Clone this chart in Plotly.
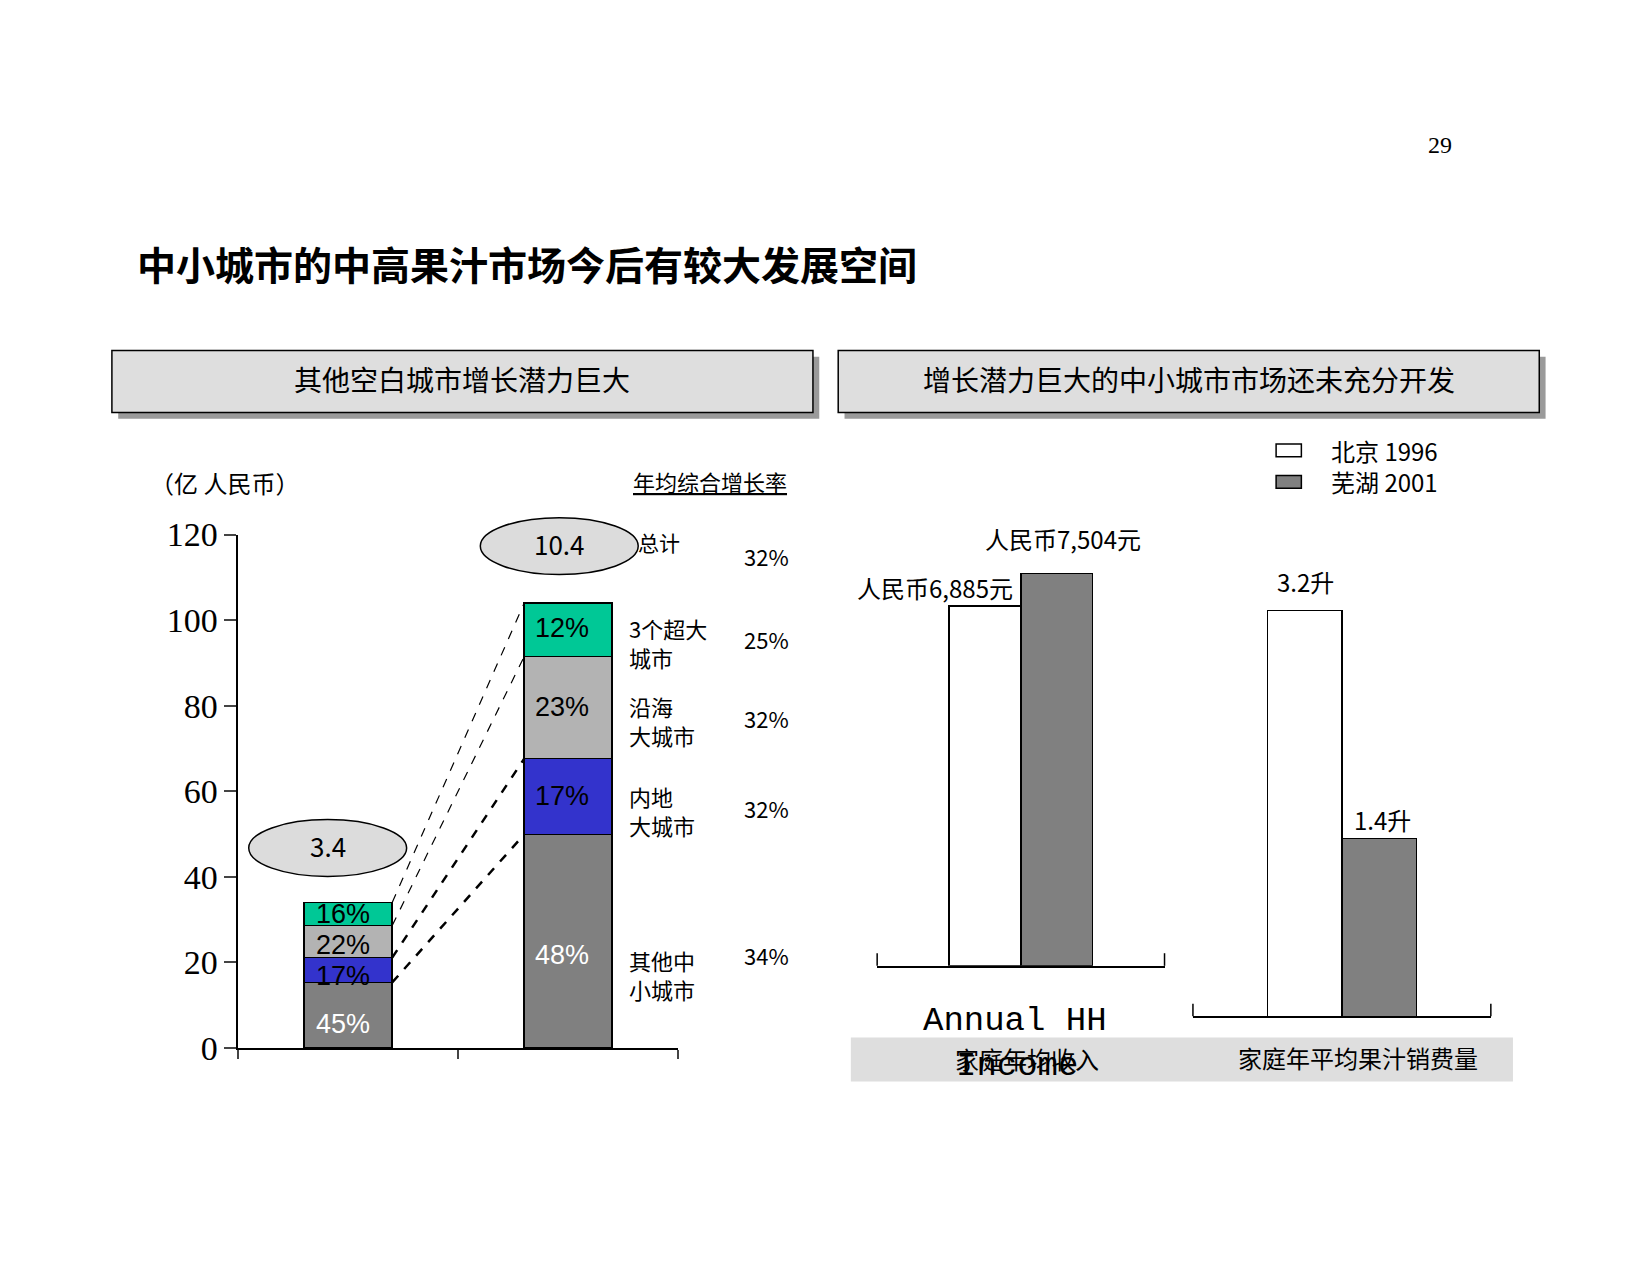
import plotly.graph_objects as go

W, H = 1650, 1275
# empirical correction of rendered placement
def px(x): return ((x - 7.3) / 0.950) / W
def py(y): return 1 - ((y - 24.6) / 0.923) / H
FS = 1.07

# ---- data ----
years = [0, 1]  # two stacks
seg_names = ["其他中小城市", "内地大城市", "沿海大城市", "3个超大城市"]
seg_colors = ["#808080", "#3333cc", "#b3b3b3", "#00c896"]
left_vals = [15.3, 5.8, 7.5, 5.4]
right_vals = [49.9, 17.7, 23.9, 12.5]
left_pct = ["45%", "17%", "22%", "16%"]
right_pct = ["48%", "17%", "23%", "12%"]
growth = ["32%", "25%", "32%", "32%", "34%"]
totals = ["3.4", "10.4"]
yticks = [0, 20, 40, 60, 80, 100, 120]

income_cities = ["北京 1996", "芜湖 2001"]
income_vals = [6885, 7504]
income_labels = ["人民币6,885元", "人民币7,504元"]
juice_vals = [3.2, 1.4]
juice_labels = ["3.2升", "1.4升"]
bar_fill = ["white", "#808080"]

fig = go.Figure()
for i in range(4):
    fig.add_trace(go.Bar(x=years, y=[left_vals[i], right_vals[i]], width=0.4,
                         marker=dict(color=seg_colors[i], line=dict(color="black", width=1.5)),
                         xaxis="x", yaxis="y", showlegend=False))

cl, cr = 0, 0
for i in range(4):
    cl += left_vals[i]; cr += right_vals[i]
    fig.add_trace(go.Scatter(x=[0.2, 0.8], y=[cl, cr], mode="lines",
                             line=dict(color="black", dash="dash", width=2.5 if i < 2 else 1.2),
                             xaxis="x", yaxis="y", showlegend=False))

fig.add_trace(go.Bar(x=[0, 1], y=income_vals, width=1.0,
                     marker=dict(color=bar_fill, line=dict(color="black", width=1.5)),
                     xaxis="x2", yaxis="y2", showlegend=False))
fig.add_trace(go.Bar(x=[0, 1], y=juice_vals, width=1.0,
                     marker=dict(color=bar_fill, line=dict(color="black", width=1.5)),
                     xaxis="x3", yaxis="y3", showlegend=False))

serif = "Liberation Serif"
sans = "Noto Sans CJK SC"
fig.update_layout(
    width=W, height=H, margin=dict(l=0, r=0, t=0, b=0),
    paper_bgcolor="white", plot_bgcolor="white", barmode="stack",
    font=dict(family=sans, color="black"),
    xaxis=dict(domain=[px(226), px(644)], range=[-0.5, 1.5], tickvals=[-0.5, 0.5, 1.5],
               ticktext=["", "", ""], ticks="outside", ticklen=9, tickwidth=1.5,
               showline=True, linecolor="black", linewidth=1.5, showgrid=False, zeroline=False),
    yaxis=dict(domain=[py(996), py(508)], range=[0, 120], tickvals=yticks, ticks="outside",
               ticklen=12, tickwidth=1.5, showline=True, linecolor="black", linewidth=1.5,
               showgrid=False, zeroline=False, tickfont=dict(family=serif, size=34)),
    xaxis2=dict(domain=[px(833), px(1106)], range=[-1.5, 2.5], showticklabels=False,
                showline=True, linecolor="black", linewidth=1.5, showgrid=False, zeroline=False,
                anchor="y2"),
    yaxis2=dict(domain=[py(918), py(508)], range=[0, (918 - 508) / 342 * 6885], visible=False,
                anchor="x2"),
    xaxis3=dict(domain=[px(1133), px(1416)], range=[-1.5, 2.5], showticklabels=False,
                showline=True, linecolor="black", linewidth=1.5, showgrid=False, zeroline=False,
                anchor="y3"),
    yaxis3=dict(domain=[py(966), py(508)], range=[0, (966 - 508) / 386 * 3.2], visible=False,
                anchor="x3"),
)

shapes, ann = [], []
def text(x, y, t, size=22, color="black", family=sans, xanchor="center", **kw):
    ann.append(dict(x=px(x), y=py(y), xref="paper", yref="paper", text=t, showarrow=False,
                    xanchor=xanchor, yanchor="middle",
                    font=dict(size=round(size * FS), color=color, family=family), **kw))

text(128, 250, "<b>中小城市的中高果汁市场今后有较大发展空间</b>", size=36, xanchor="left")
text(1368, 138, "29", size=22, family=serif)

for x0, x1, t in [(106, 772, "其他空白城市增长潜力巨大"), (796, 1462, "增长潜力巨大的中小城市市场还未充分开发")]:
    shapes.append(dict(type="rect", xref="paper", yref="paper", x0=px(x0 + 6), x1=px(x1 + 6),
                       y0=py(398), y1=py(339), fillcolor="#9a9a9a", line=dict(width=0), layer="below"))
    shapes.append(dict(type="rect", xref="paper", yref="paper", x0=px(x0), x1=px(x1),
                       y0=py(392), y1=py(333), fillcolor="#dedede", line=dict(color="black", width=1.5)))
    text((x0 + x1) / 2, 360, t, size=26)

text(140, 459, "（亿 人民币）", size=22, xanchor="left")
text(674, 457, "<u>年均综合增长率</u>", size=21)

for cx, cy, t in [(531, 519, totals[1]), (311, 806, totals[0])]:
    shapes.append(dict(type="circle", xref="paper", yref="paper", x0=px(cx - 75), x1=px(cx + 75),
                       y0=py(cy + 27), y1=py(cy - 27), fillcolor="#dcdcdc", line=dict(color="black", width=1.5)))
    text(cx, cy - 2, t, size=24)
text(604, 515, "总计", size=20, xanchor="left")

for y, g in zip([528, 607, 682, 768, 908], growth):
    text(728, y, g, size=21)

for y, t in [(611, "3个超大<br>城市"), (685, "沿海<br>大城市"), (770, "内地<br>大城市"), (926, "其他中<br>小城市")]:
    text(595, y, t, size=21, xanchor="left", align="left")

for (x, y, t, c) in [(298, 973, left_pct[0], "white"), (298, 928, left_pct[1], "black"),
                     (298, 898, left_pct[2], "black"), (298, 869, left_pct[3], "black"),
                     (506, 908, right_pct[0], "white"), (506, 757, right_pct[1], "black"),
                     (506, 672, right_pct[2], "black"), (506, 597, right_pct[3], "black")]:
    text(x, y, t, size=25, color=c, xanchor="left", family="Liberation Sans")

text(888, 558, income_labels[0], size=22)
text(1010, 512, income_labels[1], size=22)
text(1240, 553, juice_labels[0], size=22)
text(1313, 779, juice_labels[1], size=22)

for x, y in [(833, 918), (1106, 918), (1133, 966), (1416, 966)]:
    shapes.append(dict(type="line", xref="paper", yref="paper", x0=px(x), x1=px(x),
                       y0=py(y), y1=py(y - 12), line=dict(color="black", width=1.5)))

for y, c, t in [(428, "white", income_cities[0]), (458, "#808080", income_cities[1])]:
    shapes.append(dict(type="rect", xref="paper", yref="paper", x0=px(1212), x1=px(1236),
                       y0=py(y + 6), y1=py(y - 6), fillcolor=c, line=dict(color="black", width=1.5)))
    text(1262, y, t, size=22, xanchor="left")

shapes.append(dict(type="rect", xref="paper", yref="paper", x0=px(808), x1=px(1437),
                   y0=py(1028), y1=py(986), fillcolor="#dedede", line=dict(width=0), layer="below"))
text(975, 1006, "家庭年均收入", size=22)
text(1290, 1005, "家庭年平均果汁销费量", size=22)
text(964, 970, "Annual HH", size=32, family="Liberation Mono")
text(966, 1013, "Income", size=32, family="Liberation Mono")

fig.update_layout(shapes=shapes, annotations=ann)
fig.write_html("out.html")
